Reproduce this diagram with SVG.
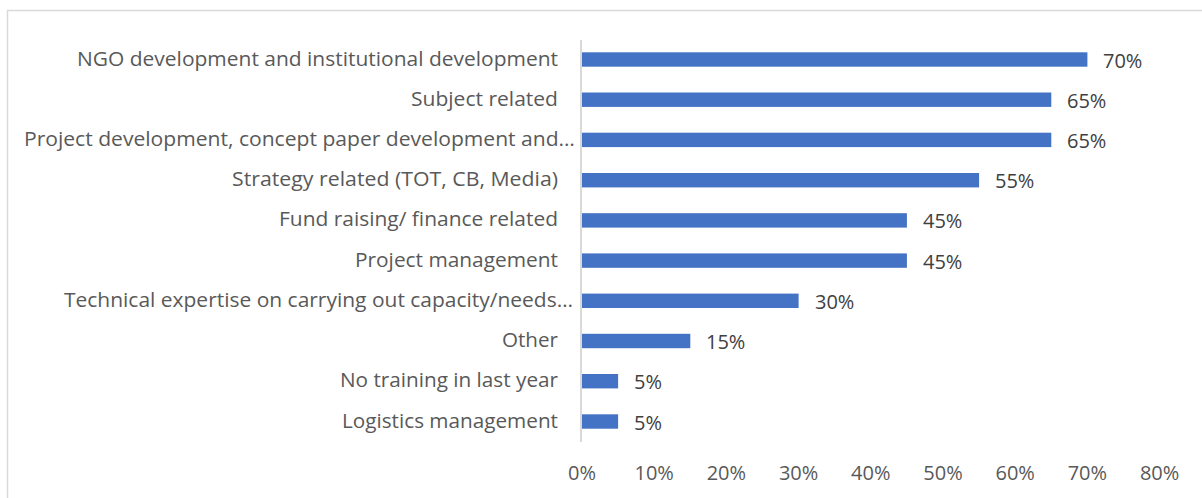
<svg xmlns="http://www.w3.org/2000/svg" width="1202" height="498" viewBox="0 0 1202 498">
<style>
.lbl{font-family:"Open Sans","Liberation Sans",sans-serif;font-size:20px;fill:#595959;text-anchor:end}
.val{font-family:"Open Sans","Liberation Sans",sans-serif;font-size:20px;fill:#404040}
.tick{font-family:"Open Sans","Liberation Sans",sans-serif;font-size:20px;fill:#595959;text-anchor:middle}
.bar{fill:#4472C4}
</style>
<rect x="0" y="0" width="1202" height="498" fill="#ffffff"/>
<rect x="7.5" y="10.5" width="1210" height="500" fill="none" stroke="#D9D9D9" stroke-width="1.5"/>
<g id="axis">
<line x1="581" y1="40" x2="581" y2="442" stroke="#D9D9D9" stroke-width="2"/>
</g>
<g id="bars">
<rect class="bar" x="582" y="52.3" width="505.4" height="14.4"/>
<rect class="bar" x="582" y="92.5" width="469.3" height="14.4"/>
<rect class="bar" x="582" y="132.7" width="469.3" height="14.4"/>
<rect class="bar" x="582" y="173" width="397.1" height="14.4"/>
<rect class="bar" x="582" y="213.2" width="324.9" height="14.4"/>
<rect class="bar" x="582" y="253.4" width="324.9" height="14.4"/>
<rect class="bar" x="582" y="293.6" width="216.6" height="14.4"/>
<rect class="bar" x="582" y="333.8" width="108.3" height="14.4"/>
<rect class="bar" x="582" y="374" width="36.1" height="14.4"/>
<rect class="bar" x="582" y="414.3" width="36.1" height="14.4"/>
</g>
<g id="categories">
<text class="lbl" x="558" y="65.5" textLength="481" lengthAdjust="spacingAndGlyphs">NGO development and institutional development</text>
<text class="lbl" x="558" y="105.7" textLength="147" lengthAdjust="spacingAndGlyphs">Subject related</text>
<text class="lbl" x="575" y="145.9" textLength="551" lengthAdjust="spacingAndGlyphs">Project development, concept paper development and…</text>
<text class="lbl" x="558" y="186.2" textLength="326" lengthAdjust="spacingAndGlyphs">Strategy related (TOT, CB, Media)</text>
<text class="lbl" x="558" y="226.4" textLength="279" lengthAdjust="spacingAndGlyphs">Fund raising/ finance related</text>
<text class="lbl" x="558" y="266.6" textLength="203" lengthAdjust="spacingAndGlyphs">Project management</text>
<text class="lbl" x="573" y="306.8" textLength="509" lengthAdjust="spacingAndGlyphs">Technical expertise on carrying out capacity/needs…</text>
<text class="lbl" x="558" y="347" textLength="56" lengthAdjust="spacingAndGlyphs">Other</text>
<text class="lbl" x="558" y="387.2" textLength="218" lengthAdjust="spacingAndGlyphs">No training in last year</text>
<text class="lbl" x="558" y="427.5" textLength="216" lengthAdjust="spacingAndGlyphs">Logistics management</text>
</g>
<g id="values">
<text class="val" x="1103" y="67.5">70%</text>
<text class="val" x="1067" y="107.7">65%</text>
<text class="val" x="1067" y="147.9">65%</text>
<text class="val" x="995" y="188.2">55%</text>
<text class="val" x="923" y="228.4">45%</text>
<text class="val" x="923" y="268.6">45%</text>
<text class="val" x="815" y="308.8">30%</text>
<text class="val" x="706" y="349">15%</text>
<text class="val" x="634" y="389.2">5%</text>
<text class="val" x="634" y="429.5">5%</text>
</g>
<g id="ticks">
<text class="tick" x="582" y="480">0%</text>
<text class="tick" x="654.2" y="480">10%</text>
<text class="tick" x="726.4" y="480">20%</text>
<text class="tick" x="798.6" y="480">30%</text>
<text class="tick" x="870.8" y="480">40%</text>
<text class="tick" x="943" y="480">50%</text>
<text class="tick" x="1015.2" y="480">60%</text>
<text class="tick" x="1087.4" y="480">70%</text>
<text class="tick" x="1159.6" y="480">80%</text>
</g>
</svg>
